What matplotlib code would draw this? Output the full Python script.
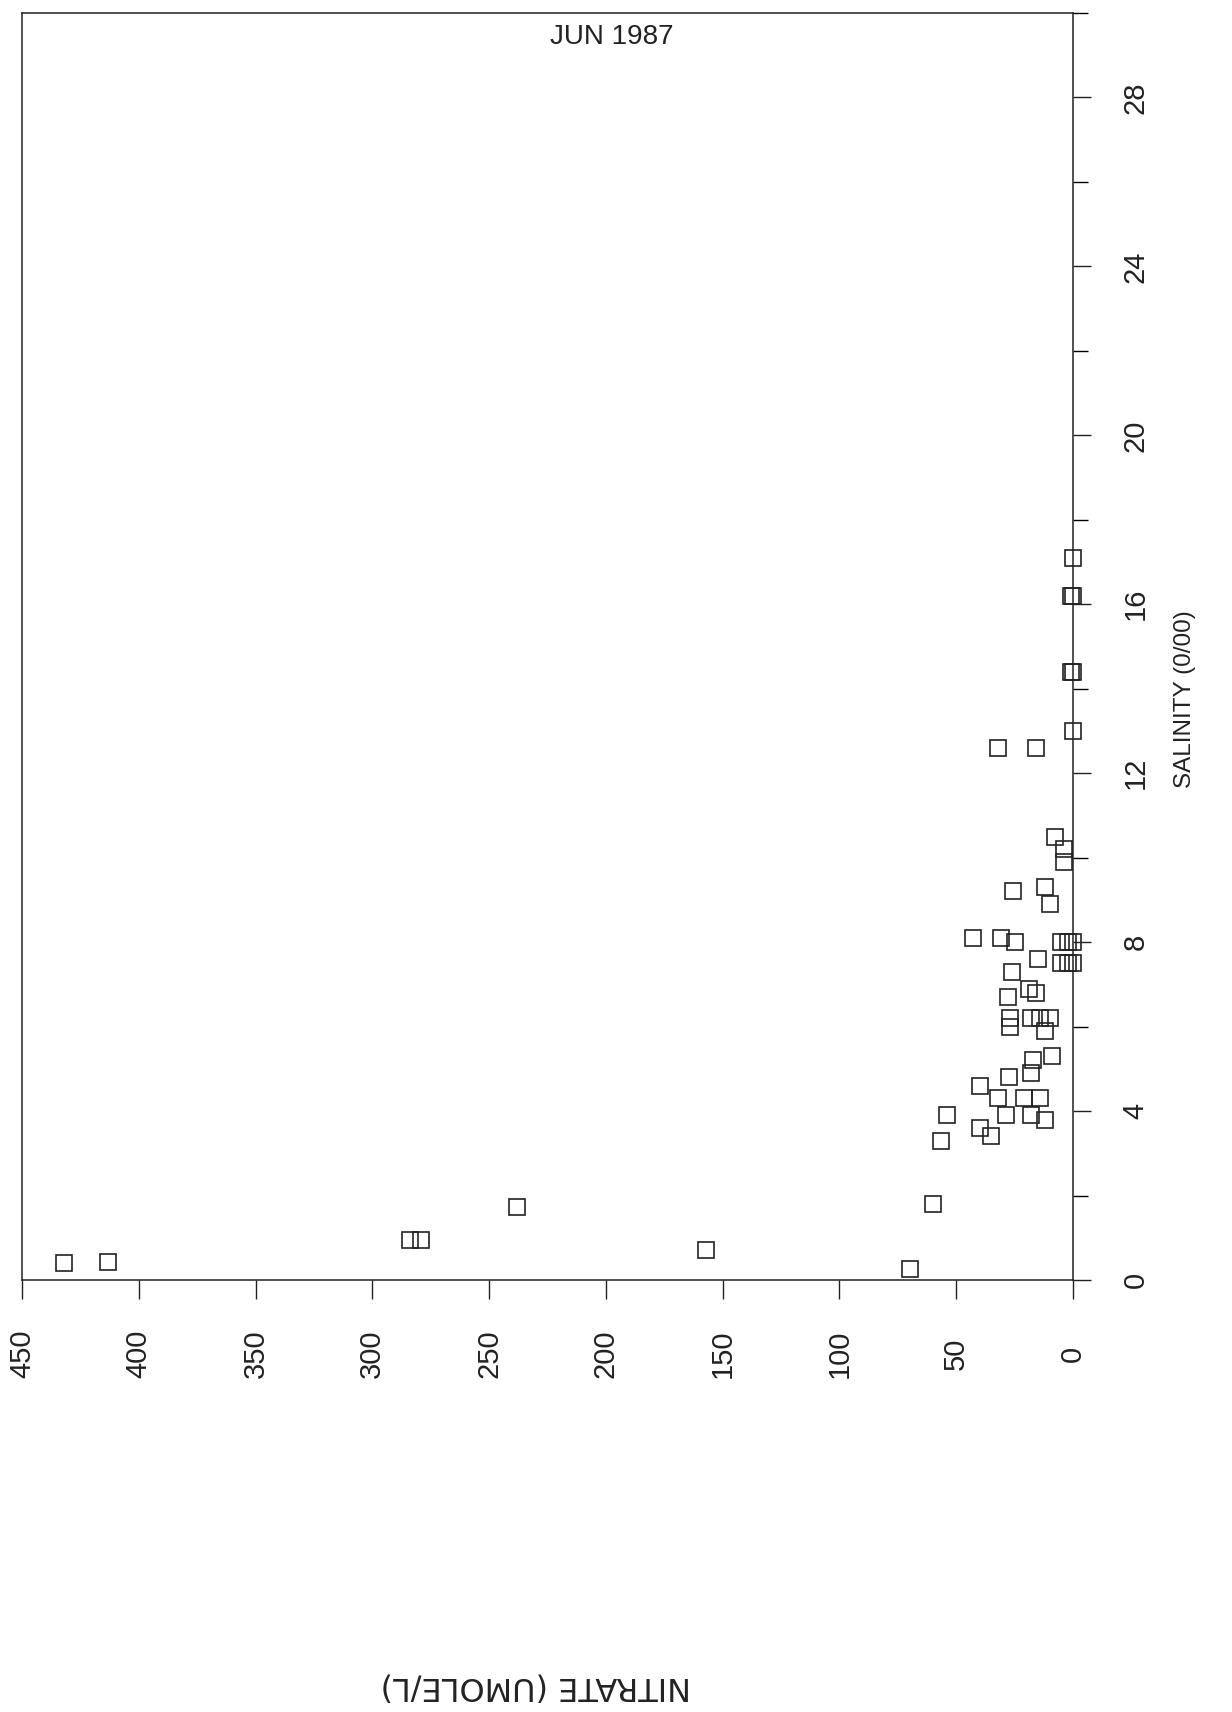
import matplotlib
matplotlib.use('Agg')
from matplotlib import pyplot as plt
from matplotlib.ticker import MultipleLocator

# salinity / nitrate pairs (JUN 1987)
nitrate = [432, 413, 284, 279, 238, 157, 70, 60, 56.5, 54,
           40, 40, 35, 32, 28.5, 21, 18, 12, 14, 27.5,
           18, 17, 9, 27, 27, 18, 14, 10, 12, 28,
           26, 19, 16, 15, 43, 31, 25, 5, 2, 0,
           5, 2, 0, 25.5, 12, 10, 7.5, 4, 4, 32,
           16, 0, 0, 1, 1, 0, 0]
salinity = [0.40, 0.43, 0.95, 0.95, 1.74, 0.71, 0.25, 1.8, 3.3, 3.9,
            4.6, 3.6, 3.4, 4.3, 3.9, 4.3, 3.9, 3.8, 4.3, 4.8,
            4.9, 5.2, 5.3, 6.2, 6.0, 6.2, 6.2, 6.2, 5.9, 6.7,
            7.3, 6.9, 6.8, 7.6, 8.1, 8.1, 8.0, 8.0, 8.0, 8.0,
            7.5, 7.5, 7.5, 9.2, 9.3, 8.9, 10.5, 9.9, 10.2, 12.6,
            12.6, 13.0, 14.4, 14.4, 16.2, 16.2, 17.1]

nitrate_ticks = [0, 50, 100, 150, 200, 250, 300, 350, 400, 450]
salinity_ticks = [0, 4, 8, 12, 16, 20, 24, 28]

W, H = 1232, 1712
fig = plt.figure(figsize=(W / 100, H / 100), dpi=100)
# page is scanned rotated: nitrate runs right->left along the bottom,
# salinity runs bottom->top on the right side
left, right, top, bottom = 22, 1073, 13, 1280
ax = fig.add_axes([left / W, (H - bottom) / H, (right - left) / W, (bottom - top) / H])

ax.plot(nitrate, salinity, ls='none', marker='s', ms=12, mfc='none',
        mec='#222222', mew=1.2, clip_on=False, zorder=3)

ax.set_xlim(450, 0)
ax.set_ylim(0, 30)

for s in ax.spines.values():
    s.set_linewidth(1.1)
    s.set_color('#222222')

ax.set_xticks(nitrate_ticks)
ax.set_xticklabels([str(t) for t in nitrate_ticks])
ax.tick_params(axis='x', direction='out', length=14, width=1.0, pad=39,
               labelsize=21, colors='#222222')
for lab in ax.get_xticklabels():
    lab.set_rotation(90)
    lab.set_rotation_mode('anchor')
    lab.set_ha('center')
    lab.set_va('center')
    lab.set_family(['Liberation Sans', 'DejaVu Sans'])

ax.yaxis.tick_right()
ax.set_yticks(salinity_ticks)
ax.set_yticklabels([str(t) for t in salinity_ticks])
ax.yaxis.set_minor_locator(MultipleLocator(2))
ax.tick_params(axis='y', which='major', direction='out', length=13, width=1.0,
               pad=32, labelsize=21, colors='#222222')
ax.tick_params(axis='y', which='minor', direction='out', length=11, width=1.0)
for lab in ax.get_yticklabels():
    lab.set_rotation(90)
    lab.set_rotation_mode('anchor')
    lab.set_ha('center')
    lab.set_va('center')
    lab.set_family(['Liberation Sans', 'DejaVu Sans'])

ax.text(1.1066, 0.4586, 'SALINITY (0/00)', transform=ax.transAxes, rotation=90,
        ha='center', va='center', fontsize=17.5, color='#222222',
        family=['Liberation Sans', 'DejaVu Sans'])

fig.text(536 / W, (H - 1686) / H, 'NITRATE (UMOLE/L)', rotation=180,
         ha='center', va='center', fontsize=23, color='#222222',
         family=['DejaVu Sans'])

fig.text(612 / W, (H - 44) / H, 'JUN 1987', ha='center', va='baseline',
         fontsize=20, color='#222222', family=['Liberation Sans', 'DejaVu Sans'])

fig.savefig('out.png', dpi=100)
